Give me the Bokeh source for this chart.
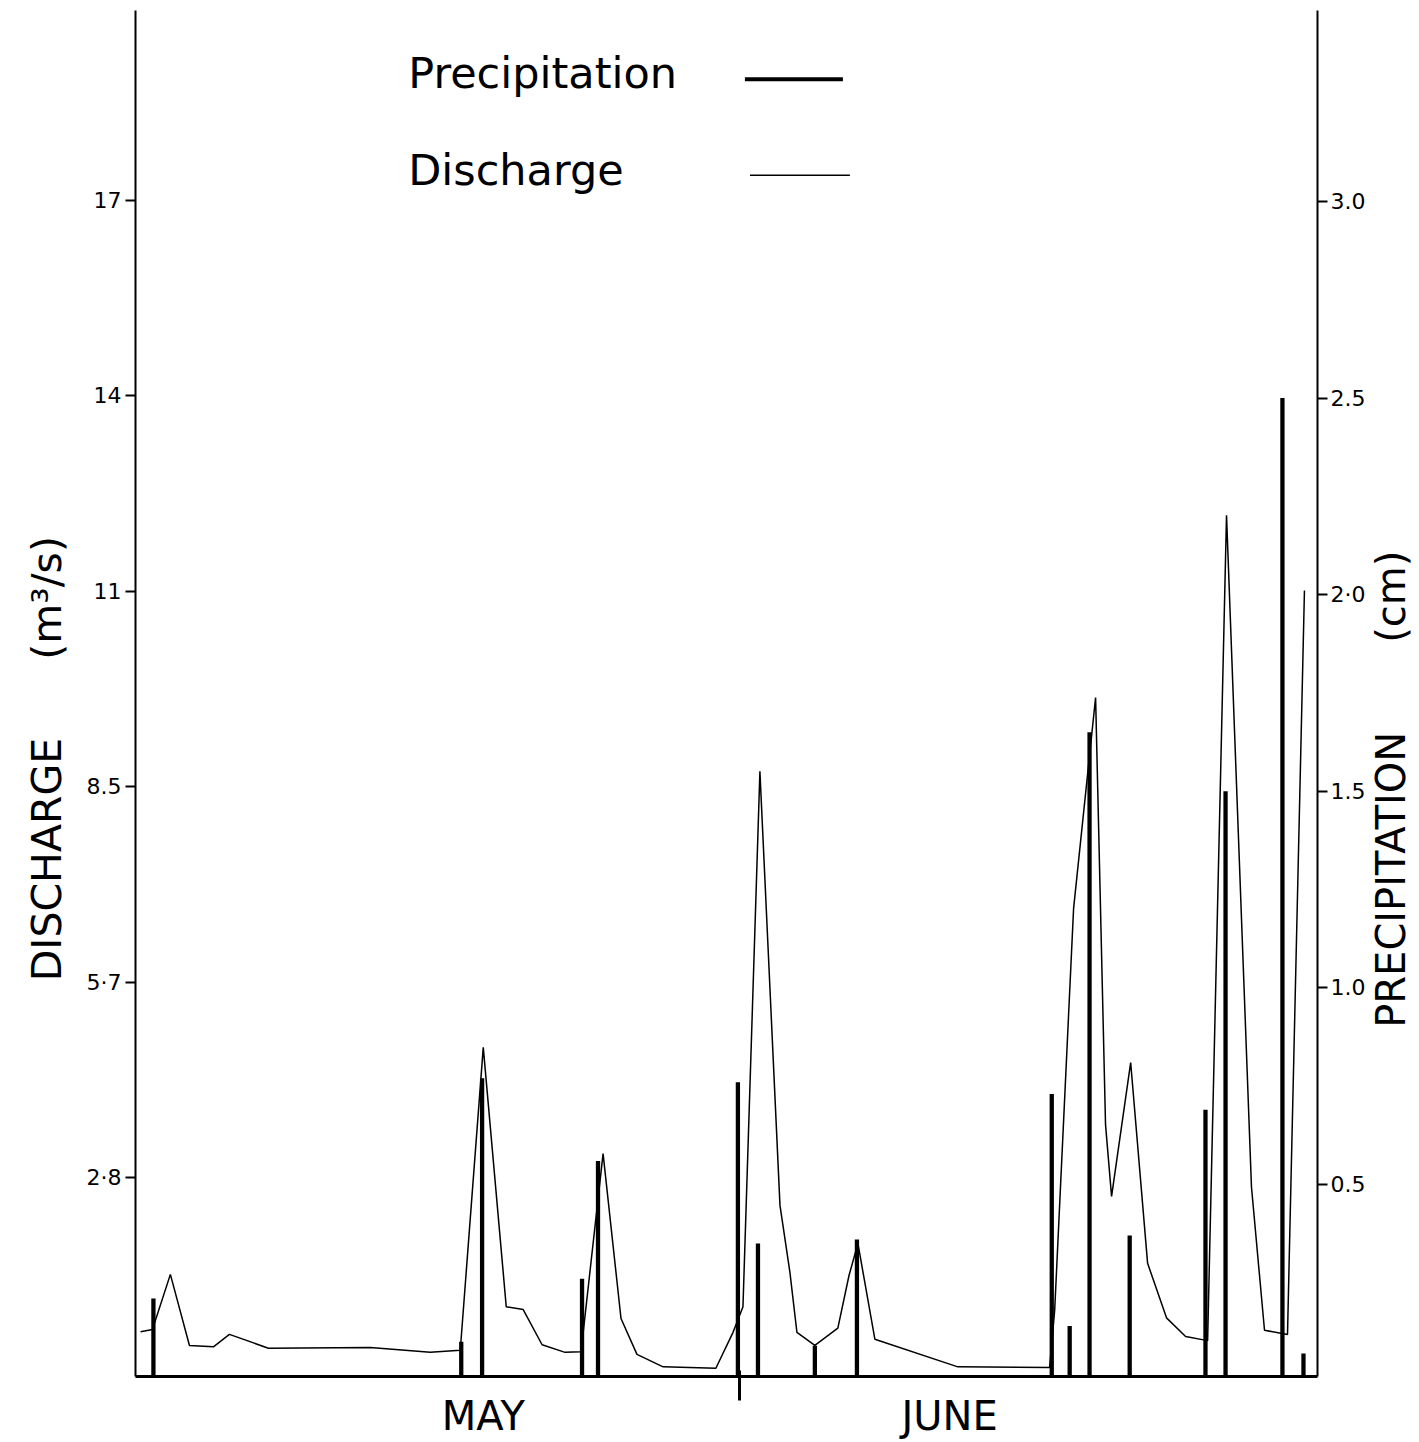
from math import pi
from bokeh.plotting import figure
from bokeh.layouts import row
from bokeh.models import Range1d, LinearAxis, FixedTicker, CustomJSTickFormatter, Label
from bokeh.embed import file_html
from bokeh.resources import INLINE

# ---------------- data (day 0 = start of 1 May, day 31 = start of 1 June) ----------------
discharge_day = [0.26, 0.87, 1.79, 2.77, 4.00, 4.82, 6.82, 12.05, 15.13, 16.67,
                 17.85, 19.03, 19.90, 20.87, 22.05, 22.87, 24.00, 24.92, 25.74, 27.08,
                 29.79, 30.67, 31.18, 32.05, 33.08, 33.59, 33.95, 34.87, 36.05, 36.62,
                 37.08, 37.95, 42.21, 46.92, 47.18, 48.15, 49.28, 49.79, 50.10, 51.08,
                 51.95, 52.92, 53.90, 55.03, 56.00, 57.28, 57.95, 59.13, 60.00]
discharge_m3s = [0.60, 0.63, 1.43, 0.40, 0.38, 0.56, 0.36, 0.37, 0.30, 0.33,
                 4.72, 0.96, 0.92, 0.41, 0.30, 0.31, 3.18, 0.79, 0.27, 0.09,
                 0.07, 0.59, 0.96, 8.72, 2.43, 1.46, 0.59, 0.40, 0.65, 1.41,
                 1.88, 0.49, 0.09, 0.08, 0.91, 6.73, 9.79, 3.60, 2.56, 4.50,
                 1.59, 0.80, 0.53, 0.47, 12.43, 2.70, 0.62, 0.56, 11.34]

precip_day = [0.92, 16.72, 17.79, 22.92, 23.74, 30.92, 31.95, 34.87, 37.03,
              47.03, 47.95, 48.97, 51.03, 54.92, 55.95, 58.87, 59.95]
precip_cm = [0.21, 0.10, 0.77, 0.26, 0.56, 0.76, 0.35, 0.09, 0.36,
             0.73, 0.14, 1.65, 0.37, 0.69, 1.50, 2.50, 0.07]

discharge_ticks = [17.0 / 6 * k for k in range(1, 7)]
discharge_tick_labels = ["2·8", "5·7", "8.5", "11", "14", "17"]
precip_ticks = [0.5, 1.0, 1.5, 2.0, 2.5, 3.0]
precip_tick_labels = ["0.5", "1.0", "1.5", "2·0", "2.5", "3.0"]
month_boundary = [31]
month_names = ["MAY", "JUNE"]
month_label_day = [17.85, 41.79]

FONT = "DejaVu Sans"
NB = "\u00a0"

p = figure(width=1368, height=1442, output_backend="svg", toolbar_location=None,
           x_range=Range1d(0, 60.67), y_range=Range1d(-0.05, 19.747),
           min_border_left=135, min_border_right=50, min_border_top=10, min_border_bottom=66)
p.outline_line_color = None
p.xgrid.visible = False
p.ygrid.visible = False
p.background_fill_color = "white"
p.border_fill_color = "white"

p.extra_y_ranges = {"precip": Range1d(0.0117, 0.0117 + 1366 / 393.2)}

# precipitation bars
p.vbar(x=precip_day, top=precip_cm, bottom=0, width=0.22, y_range_name="precip",
       fill_color="black", line_color=None)
# discharge line
p.line(discharge_day, discharge_m3s, line_width=1.5, line_color="black")


def style_axis(ax, standoff):
    ax.axis_line_width = 2
    ax.axis_line_color = "black"
    ax.major_tick_out = 10
    ax.major_tick_in = 0
    ax.major_tick_line_width = 2
    ax.major_tick_line_color = "black"
    ax.minor_tick_out = 0
    ax.minor_tick_in = 0
    ax.major_label_text_font = FONT
    ax.major_label_text_font_size = "22px"
    ax.major_label_text_color = "black"
    ax.major_label_standoff = standoff
    ax.axis_label_text_font = FONT
    ax.axis_label_text_font_size = "41px"
    ax.axis_label_text_font_style = "normal"
    ax.axis_label_text_color = "black"


# left axis
ya = p.yaxis[0]
ya.ticker = FixedTicker(ticks=discharge_ticks)
ya.formatter = CustomJSTickFormatter(args=dict(labels=discharge_tick_labels),
                                     code="return labels[Math.round(tick*6/17)-1];")
style_axis(ya, 4)
ya.axis_label = "DISCHARGE" + NB * 6 + "(m³/s)" + NB * 10
ya.axis_label_standoff = 13

# right axis (precipitation)
ra = LinearAxis(y_range_name="precip", ticker=FixedTicker(ticks=precip_ticks),
                formatter=CustomJSTickFormatter(args=dict(labels=precip_tick_labels),
                                                code="return labels[Math.round(tick*2)-1];"))
style_axis(ra, 3)
p.add_layout(ra, "right")

# bottom axis: month names as labels, month boundary as the only tick mark
xa = p.xaxis[0]
xa.ticker = FixedTicker(ticks=month_label_day, minor_ticks=month_boundary)
xa.formatter = CustomJSTickFormatter(args=dict(names=month_names, days=month_label_day),
                                     code="return names[days.indexOf(tick)];")
xa.axis_line_width = 3
xa.axis_line_color = "black"
xa.major_tick_out = 0
xa.major_tick_in = 0
xa.minor_tick_out = 24
xa.minor_tick_in = 6
xa.minor_tick_line_width = 3
xa.minor_tick_line_color = "black"
xa.major_label_text_font = FONT
xa.major_label_text_font_size = "40px"
xa.major_label_text_color = "black"
xa.major_label_standoff = -8

# legend (hand-placed, as in the original drawing)
p.add_layout(Label(x=14.0, y=18.84, text="Precipitation", text_align="left",
                   text_baseline="alphabetic", text_font=FONT, text_font_size="43px",
                   text_color="black"))
p.add_layout(Label(x=14.0, y=17.44, text="Discharge", text_align="left",
                   text_baseline="alphabetic", text_font=FONT, text_font_size="43px",
                   text_color="black"))
p.segment(x0=[31.28], y0=[18.75], x1=[36.31], y1=[18.75], line_width=4, line_color="black")
p.segment(x0=[31.54], y0=[17.36], x1=[36.67], y1=[17.36], line_width=1.5, line_color="black")

# right-hand title strip (text reads bottom-to-top, like the left title)
t = figure(width=51, height=1442, output_backend="svg", toolbar_location=None,
           x_range=Range1d(0, 51), y_range=Range1d(1442, 0),
           x_axis_location=None, y_axis_location=None,
           min_border_left=0, min_border_right=0, min_border_top=0, min_border_bottom=0)
t.outline_line_color = None
t.xgrid.visible = False
t.ygrid.visible = False
t.background_fill_color = "white"
t.border_fill_color = "white"
t.add_layout(Label(x=22, y=822, text="PRECIPITATION" + NB * 7 + "(cm)", angle=pi / 2,
                   text_align="center", text_baseline="middle", text_font=FONT,
                   text_font_size="40px", text_color="black"))

layout = row(p, t, spacing=0)
open("out.html", "w").write(file_html(layout, INLINE))
